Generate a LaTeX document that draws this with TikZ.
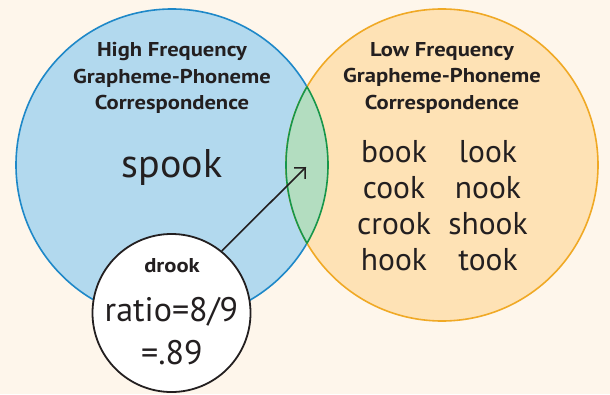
\documentclass[tikz,border=0pt]{standalone}
\usepackage{fontspec}
\setmainfont{PT Sans}
\newfontfamily\headfont[FakeStretch=1.13]{PT Sans}
\usetikzlibrary{arrows.meta}
\definecolor{bgcream}{HTML}{FEF6EB}
\definecolor{hifill}{HTML}{B2D9EE}
\definecolor{hiline}{HTML}{1E88C8}
\definecolor{lofill}{HTML}{FEE2B5}
\definecolor{loline}{HTML}{F0A925}
\definecolor{midfill}{HTML}{B3DDC0}
\definecolor{midline}{HTML}{17964A}
\definecolor{ink}{HTML}{231F20}
\tikzset{
  setcircle/.style={circle, inner sep=0pt, minimum size=312pt, line width=1.6pt},
  heading/.style={align=center, text=ink, font=\headfont\fontsize{20}{26.5}\selectfont\bfseries},
  word/.style={text=ink, inner sep=0pt, font=\fontsize{31.5}{34}\selectfont},
  bigword/.style={text=ink, inner sep=0pt, font=\fontsize{40}{44}\selectfont},
  ratiotext/.style={text=ink, inner sep=0pt, font=\fontsize{34}{38}\selectfont},
}
\begin{document}
\begin{tikzpicture}[x=1pt, y=1pt]
  % canvas
  \fill[bgcream] (0,0) rectangle (610,394);
  \useasboundingbox (0,0) rectangle (610,394);

  % the two sets
  \node[setcircle, fill=hifill, draw=hiline] (high) at (172,229) {};
  \node[setcircle, fill=lofill, draw=loline] (low) at (442,229) {};

  % overlap lens
  \begin{scope}
    \clip (172,229) circle (156);
    \fill[midfill] (442,229) circle (156);
    \draw[midline, line width=1.6pt] (442,229) circle (156);
  \end{scope}
  \begin{scope}
    \clip (442,229) circle (156);
    \draw[midline, line width=1.6pt] (172,229) circle (156);
  \end{scope}

  % headings
  \node[heading] (hihead) at (172,316) {High Frequency\\Grapheme-Phoneme\\Correspondence};
  \node[heading] (lohead) at (442,316) {Low Frequency\\Grapheme-Phoneme\\Correspondence};

  % words
  \node[bigword] (spook) at (172,226) {spook};
  \node[word] (book)  at (394,242) {book};
  \node[word] (look)  at (488,242) {look};
  \node[word] (cook)  at (394,206) {cook};
  \node[word] (nook)  at (488,206) {nook};
  \node[word] (crook) at (394,170) {crook};
  \node[word] (shook) at (488,170) {shook};
  \node[word] (hook)  at (394,134) {hook};
  \node[word] (took)  at (488,134) {took};

  % the example word
  \node[circle, fill=white, draw=ink, line width=1.8pt, minimum size=158pt, inner sep=0pt] (drook) at (171.5,81) {};
  \node[text=ink, inner sep=0pt, font=\headfont\fontsize{20}{22}\selectfont\bfseries] (drooklabel) at (172,128) {drook};
  \node[ratiotext] (ratio) at (171.5,82) {ratio=8/9};
  \node[ratiotext] (value) at (172,41) {=.89};

  \coordinate (tip) at (306,227);
  \draw[ink, line width=1.6pt, -{Straight Barb[length=7.8pt, width=15.5pt]}] (drook.51) -- (tip);
\end{tikzpicture}
\end{document}
